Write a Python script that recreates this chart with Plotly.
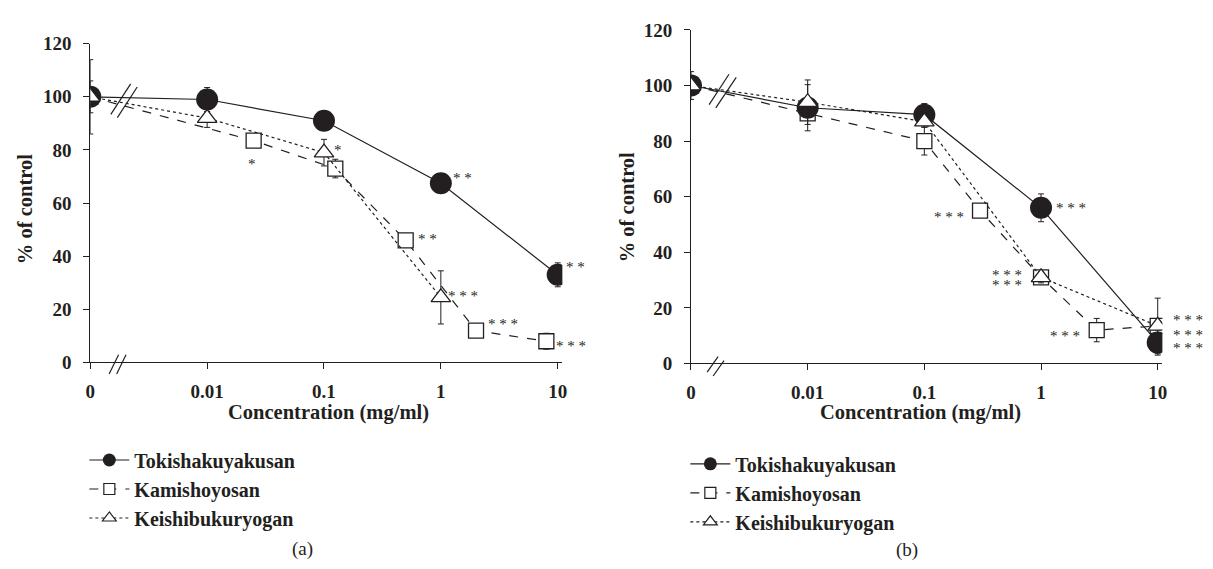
import math
import plotly.graph_objects as go

W, H = 1213, 569
ZERO_POS = 0.001  # where the "0" concentration sits on the broken log axis

# ---------------- data: panel (a) ----------------
a_toki_conc = [0, 0.01, 0.1, 1, 10]
a_toki_val = [100, 99, 91, 67.5, 33]
a_toki_err = [2, 4.5, 1.5, 1.5, 4.5]

a_kami_conc = [0, 0.025, 0.125, 0.5, 2, 8]
a_kami_val = [100, 83.5, 73, 46, 12, 8]
a_kami_err = [14, 2, 3.5, 1.5, 1.5, 3]

a_kei_conc = [0, 0.01, 0.1, 1]
a_kei_val = [100, 92, 79, 24.5]
a_kei_err = [6, 3.5, 5, 10]

# ---------------- data: panel (b) ----------------
b_toki_conc = [0, 0.01, 0.1, 1, 10]
b_toki_val = [100, 92, 89.5, 56, 7.5]
b_toki_err = [5, 8.3, 4, 5, 4.5]

b_kami_conc = [0, 0.01, 0.1, 0.3, 1, 3, 10]
b_kami_val = [100, 90, 80, 55, 31, 12, 13.5]
b_kami_err = [1, 1, 5, 1, 2, 4.2, 2]

b_kei_conc = [0, 0.01, 0.1, 1, 10]
b_kei_val = [100, 94, 87, 31, 13.5]
b_kei_err = [1, 8, 2, 2, 10]

series_names = ["Tokishakuyakusan", "Kamishoyosan", "Keishibukuryogan"]
x_tickvals = [0.001, 0.01, 0.1, 1, 10]
x_ticktext = ["0", "0.01", "0.1", "1", "10"]
y_tickvals = [0, 20, 40, 60, 80, 100, 120]

# significance marks: (series x, series y, text, xshift px, yshift px)
sig_a = [
    (0.025, 83.5, "*", -2, -19),
    (0.1, 79, "*", 14, 7),
    (1, 67.5, "* *", 22, 9),
    (0.5, 46, "* *", 22, 5),
    (1, 24.5, "* * *", 22, 5),
    (2, 12, "* * *", 27, 11),
    (8, 8, "* * *", 25, -1),
    (10, 33, "* *", 18, 12),
]
sig_b = [
    (0.3, 55, "* * *", -31, -2),
    (1, 56, "* * *", 30, 4),
    (1, 31, "* * *", -34, 6),
    (1, 31, "* * *", -34, -4),
    (3, 12, "* * *", -32, -2),
    (10, 13.5, "* * *", 30, 10),
    (10, 13.5, "* * *", 30, -5),
    (10, 13.5, "* * *", 30, -18),
]

FONT = "Liberation Serif"
INK = "#231f20"


def xp(c):
    return c if c > 0 else ZERO_POS


def px_x(px):
    return px / W


def px_y(py):
    return 1 - py / H


fig = go.Figure()

panels = [
    dict(xa="x", ya="y", leg="legend",
         toki=(a_toki_conc, a_toki_val, a_toki_err),
         kami=(a_kami_conc, a_kami_val, a_kami_err),
         kei=(a_kei_conc, a_kei_val, a_kei_err)),
    dict(xa="x2", ya="y2", leg="legend2",
         toki=(b_toki_conc, b_toki_val, b_toki_err),
         kami=(b_kami_conc, b_kami_val, b_kami_err),
         kei=(b_kei_conc, b_kei_val, b_kei_err)),
]

styles = {
    "toki": dict(name=series_names[0], rank=1,
                 line=dict(color=INK, width=1.2),
                 marker=dict(symbol="circle", size=22, color=INK, line=dict(color=INK, width=0)),
                 legmarker=dict(symbol="circle", size=13, color=INK, line=dict(color=INK, width=0))),
    "kami": dict(name=series_names[1], rank=2,
                 line=dict(color=INK, width=1.2, dash="dash"),
                 marker=dict(symbol="square", size=15, color="white", line=dict(color=INK, width=1.3)),
                 legmarker=dict(symbol="square", size=11, color="white", line=dict(color=INK, width=1.2))),
    "kei": dict(name=series_names[2], rank=3,
                line=dict(color=INK, width=1.2, dash="dot"),
                marker=dict(symbol="triangle-up", size=17, color="white", line=dict(color=INK, width=1.3)),
                legmarker=dict(symbol="triangle-up", size=12, color="white", line=dict(color=INK, width=1.2))),
}

for p in panels:
    # drawing order: Kamishoyosan below, then Tokishakuyakusan, Keishibukuryogan on top
    for key in ("kami", "toki", "kei"):
        c, v, e = p[key]
        s = styles[key]
        fig.add_trace(go.Scatter(
            x=[xp(q) for q in c], y=v, name=s["name"], mode="lines+markers",
            xaxis=p["xa"], yaxis=p["ya"], showlegend=False,
            line=s["line"], marker=s["marker"],
            error_y=dict(type="data", array=e, visible=True, color=INK, thickness=1, width=3),
        ))
    # legend entries (no data)
    for key in ("toki", "kami", "kei"):
        s = styles[key]
        fig.add_trace(go.Scatter(
            x=[None], y=[None], name=s["name"], mode="lines+markers",
            xaxis=p["xa"], yaxis=p["ya"], legend=p["leg"], legendrank=s["rank"],
            legendgroup=key + p["xa"], line=s["line"], marker=s["legmarker"],
        ))

axis_common = dict(
    showline=True, linecolor=INK, linewidth=1, showgrid=False, zeroline=False,
    ticks="outside", ticklen=6, tickcolor=INK, tickwidth=1,
    tickfont=dict(family=FONT, size=19, color=INK, weight="bold"),
)
xcommon = dict(axis_common, type="log", range=[-3, 1.04], tickvals=x_tickvals,
               ticktext=x_ticktext, ticklabelstandoff=6)
ycommon = dict(axis_common, range=[0, 120], tickvals=y_tickvals, ticklabelstandoff=8)

leg_common = dict(xanchor="left", yanchor="top",
                  font=dict(family=FONT, size=20, color=INK, weight="bold"),
                  itemsizing="trace", itemwidth=40, tracegroupgap=2,
                  bgcolor="rgba(0,0,0,0)", traceorder="normal")

fig.update_layout(
    width=W, height=H, autosize=False,
    margin=dict(l=0, r=0, t=0, b=0),
    paper_bgcolor="white", plot_bgcolor="white",
    font=dict(family=FONT, color=INK),
    xaxis=dict(xcommon, domain=[px_x(86), px_x(562)], anchor="y"),
    yaxis=dict(ycommon, domain=[px_y(366), px_y(35)], anchor="x"),
    xaxis2=dict(xcommon, domain=[px_x(691.7), px_x(1167)], anchor="y2"),
    yaxis2=dict(ycommon, domain=[px_y(367), px_y(20.7)], anchor="x2"),
    legend=dict(leg_common, x=px_x(80), y=px_y(447)),
    legend2=dict(leg_common, x=px_x(686), y=px_y(451)),
    showlegend=True,
)

ann = []
for (xa, ya, sigs) in (("x", "y", sig_a), ("x2", "y2", sig_b)):
    for (cx, cy, txt, dx, dy) in sigs:
        ann.append(dict(x=math.log10(cx), y=cy, xref=xa, yref=ya, text=txt, showarrow=False,
                        xshift=dx, yshift=dy - 4, xanchor="center", yanchor="middle",
                        font=dict(family=FONT, size=15, color=INK)))

title_font = dict(family=FONT, size=20.5, color=INK, weight="bold")
for (x, y) in ((21, 207), (628, 205)):
    ann.append(dict(x=px_x(x), y=px_y(y), xref="paper", yref="paper", text="% of control",
                    textangle=-90, showarrow=False, font=title_font,
                    xanchor="center", yanchor="middle"))
for (x, y) in ((326, 418), (923.5, 418)):
    ann.append(dict(x=px_x(x), y=px_y(y), xref="paper", yref="paper",
                    text="Concentration (mg/ml)", showarrow=False, font=title_font,
                    xanchor="center", yanchor="middle"))
for (x, y, t) in ((300, 560, "(a)"), (910, 561, "(b)")):
    ann.append(dict(x=px_x(x), y=px_y(y), xref="paper", yref="paper", text=t,
                    showarrow=False, font=dict(family=FONT, size=19, color=INK),
                    xanchor="center", yanchor="middle"))
fig.update_layout(annotations=ann)

# axis-break marks (decoration)
breaks = [
    ((106.7, 108.3), (126.7, 76.7)), ((113.3, 111.7), (133.3, 80)),
    ((105, 378), (114.5, 358)), ((112.6, 378), (122, 358)),
    ((710, 98.3), (730, 66.7)), ((716.7, 101.7), (737.3, 70)),
    ((708, 376), (719, 360)), ((714, 380), (725, 364)),
]
shapes = []
for (p0, p1) in breaks:
    shapes.append(dict(type="line", xref="paper", yref="paper",
                       x0=px_x(p0[0]), y0=px_y(p0[1]), x1=px_x(p1[0]), y1=px_y(p1[1]),
                       line=dict(color=INK, width=1.2)))
fig.update_layout(shapes=shapes)

fig.write_html("out.html", config={"displayModeBar": False},
               post_script="document.body.style.margin='0px';")
